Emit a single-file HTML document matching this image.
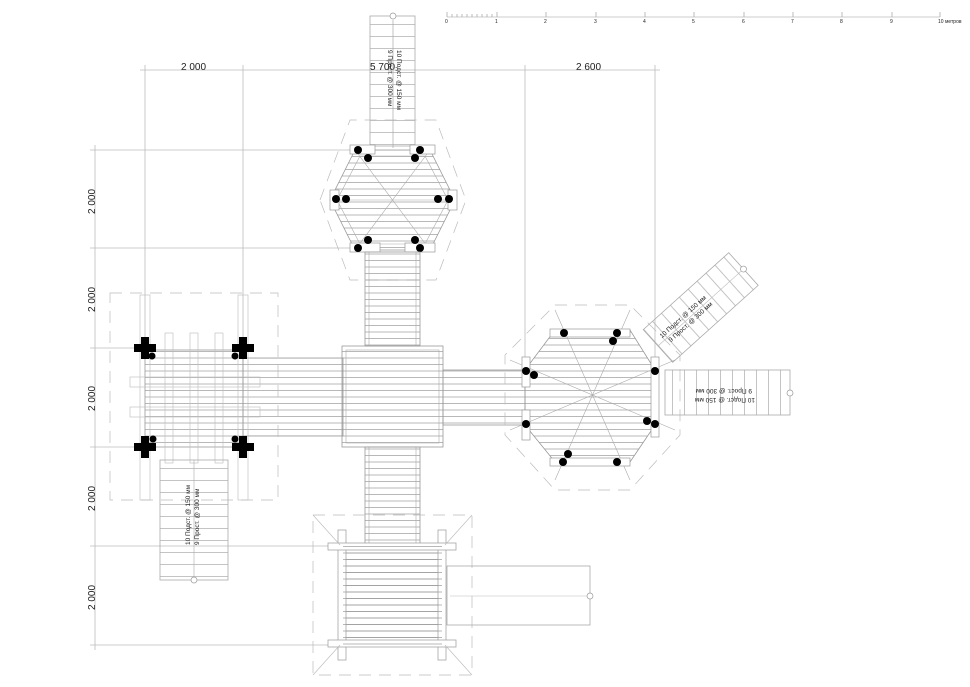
<!DOCTYPE html>
<html><head><meta charset="utf-8"><style>
html,body{margin:0;padding:0;background:#fff}
svg{display:block}
text{font-family:"Liberation Sans","Noto Sans CJK SC",sans-serif;fill:#222}
</style></head><body>
<svg width="970" height="687" viewBox="0 0 970 687" xmlns="http://www.w3.org/2000/svg">
<defs>
<pattern id="hl" width="10" height="6.5" patternUnits="userSpaceOnUse"><line x1="0" y1="0.5" x2="10" y2="0.5" stroke="#999" stroke-width="0.7"/></pattern>
<pattern id="hl2" width="10" height="12" patternUnits="userSpaceOnUse"><line x1="0" y1="0.5" x2="10" y2="0.5" stroke="#aaa" stroke-width="0.7"/></pattern>
<pattern id="vl" width="12" height="10" patternUnits="userSpaceOnUse"><line x1="0.5" y1="0" x2="0.5" y2="10" stroke="#aaa" stroke-width="0.7"/></pattern>
<g id="cross"><path d="M-4,-11h8v7h7v8h-7v7h-8v-7h-7v-8h7z" fill="#000"/></g>
</defs>
<rect width="970" height="687" fill="#fff"/>
<g stroke="#bbb" stroke-width="0.8" fill="none">
<!-- dimension lines -->
<line x1="140" y1="70" x2="660" y2="70"/>
<line x1="145" y1="65" x2="145" y2="345"/><line x1="243" y1="65" x2="243" y2="345"/>
<line x1="525" y1="65" x2="525" y2="365"/><line x1="655" y1="65" x2="655" y2="365"/>
<line x1="95" y1="145" x2="95" y2="650"/>
<line x1="90" y1="150" x2="355" y2="150"/><line x1="90" y1="248" x2="360" y2="248"/>
<line x1="90" y1="348" x2="140" y2="348"/><line x1="90" y1="447" x2="140" y2="447"/>
<line x1="90" y1="546" x2="340" y2="546"/><line x1="90" y1="645" x2="340" y2="645"/>
<!-- scale -->
<line x1="447" y1="17" x2="940" y2="17"/>
</g>
<g stroke="#aaa" stroke-width="0.8">
<line x1="447" y1="12" x2="447" y2="17"/><line x1="452" y1="14" x2="452" y2="17"/><line x1="457" y1="14" x2="457" y2="17"/><line x1="462" y1="14" x2="462" y2="17"/><line x1="467" y1="14" x2="467" y2="17"/><line x1="472" y1="14" x2="472" y2="17"/><line x1="477" y1="14" x2="477" y2="17"/><line x1="482" y1="14" x2="482" y2="17"/><line x1="487" y1="14" x2="487" y2="17"/><line x1="492" y1="14" x2="492" y2="17"/>
<line x1="497" y1="12" x2="497" y2="17"/><line x1="546" y1="12" x2="546" y2="17"/><line x1="596" y1="12" x2="596" y2="17"/><line x1="645" y1="12" x2="645" y2="17"/><line x1="694" y1="12" x2="694" y2="17"/><line x1="744" y1="12" x2="744" y2="17"/><line x1="793" y1="12" x2="793" y2="17"/><line x1="842" y1="12" x2="842" y2="17"/><line x1="892" y1="12" x2="892" y2="17"/><line x1="940" y1="12" x2="940" y2="17"/>
</g>
<g font-size="5" fill="#555">
<text x="445" y="23">0</text><text x="495" y="23">1</text><text x="544" y="23">2</text><text x="594" y="23">3</text><text x="643" y="23">4</text><text x="692" y="23">5</text><text x="742" y="23">6</text><text x="791" y="23">7</text><text x="840" y="23">8</text><text x="890" y="23">9</text><text x="938" y="23">10 метров</text>
</g>
<g font-size="10">
<text x="181" y="70">2 000</text><text x="370" y="70">5 700</text><text x="576" y="70">2 600</text>
<text transform="translate(95,214) rotate(-90)">2 000</text>
<text transform="translate(95,312) rotate(-90)">2 000</text>
<text transform="translate(95,411) rotate(-90)">2 000</text>
<text transform="translate(95,511) rotate(-90)">2 000</text>
<text transform="translate(95,610) rotate(-90)">2 000</text>
</g>

<!-- top stair -->
<rect x="370" y="16" width="45" height="130" fill="url(#hl2)" stroke="#aaa" stroke-width="0.8"/>
<line x1="393" y1="20" x2="393" y2="148" stroke="#aaa" stroke-width="0.7"/>
<circle cx="393" cy="16" r="3" fill="#fff" stroke="#999" stroke-width="0.7"/>
<g font-size="6.5" fill="#222"><text transform="translate(397,50) rotate(90)">10 Подст. @ 150 мм</text><text transform="translate(388,50) rotate(90)">9 Прост. @ 300 мм</text></g>

<!-- hexagon -->
<polygon points="320,200 350,120 436,120 466,200 436,280 350,280" fill="none" stroke="#bbb" stroke-width="0.7" stroke-dasharray="12,8"/>
<polygon points="330,200 355,150 430,150 455,200 430,250 355,250" fill="url(#hl)" stroke="#999" stroke-width="0.8"/>
<polygon points="337,200 360,156 425,156 448,200 425,244 360,244" fill="none" stroke="#aaa" stroke-width="0.6"/>
<g stroke="#aaa" stroke-width="0.6"><line x1="355" y1="150" x2="430" y2="250"/><line x1="430" y1="150" x2="355" y2="250"/><line x1="330" y1="200" x2="455" y2="200"/></g>
<g fill="#fff" stroke="#999" stroke-width="0.7"><rect x="350" y="145" width="25" height="9"/><rect x="410" y="145" width="25" height="9"/><rect x="350" y="243" width="30" height="9"/><rect x="405" y="243" width="30" height="9"/><rect x="330" y="190" width="9" height="20"/><rect x="448" y="190" width="9" height="20"/></g>
<g fill="#000"><circle cx="358" cy="150" r="4"/><circle cx="368" cy="158" r="4"/><circle cx="420" cy="150" r="4"/><circle cx="415" cy="158" r="4"/><circle cx="336" cy="199" r="4"/><circle cx="346" cy="199" r="4"/><circle cx="438" cy="199" r="4"/><circle cx="449" cy="199" r="4"/><circle cx="368" cy="240" r="4"/><circle cx="358" cy="248" r="4"/><circle cx="415" cy="240" r="4"/><circle cx="420" cy="248" r="4"/></g>

<!-- vertical walkways & center -->
<rect x="365" y="252" width="55" height="94" fill="url(#hl)" stroke="#999" stroke-width="0.8"/>
<rect x="369" y="252" width="47" height="94" fill="none" stroke="#aaa" stroke-width="0.6"/>
<rect x="365" y="447" width="55" height="98" fill="url(#hl)" stroke="#999" stroke-width="0.8"/>
<rect x="369" y="447" width="47" height="98" fill="none" stroke="#aaa" stroke-width="0.6"/>
<rect x="243" y="358" width="100" height="78" fill="url(#hl)" stroke="#999" stroke-width="0.8"/>
<rect x="443" y="370" width="82" height="55" fill="url(#hl)" stroke="#999" stroke-width="0.8"/>
<rect x="342" y="346" width="101" height="101" fill="url(#hl)" stroke="#999" stroke-width="0.8"/>
<rect x="346" y="350" width="93" height="93" fill="none" stroke="#aaa" stroke-width="0.6"/>

<!-- left square -->
<rect x="110" y="293" width="168" height="207" fill="none" stroke="#bbb" stroke-width="0.7" stroke-dasharray="12,8"/>
<rect x="145" y="350" width="98" height="97" fill="url(#hl)" stroke="#999" stroke-width="0.8"/>
<g fill="none" stroke="#bbb" stroke-width="0.6"><rect x="140" y="295" width="10" height="205"/><rect x="238" y="295" width="10" height="205"/><rect x="130" y="377" width="130" height="10"/><rect x="130" y="407" width="130" height="10"/><rect x="165" y="333" width="8" height="130"/><rect x="190" y="333" width="8" height="130"/><rect x="215" y="333" width="8" height="130"/></g>
<use href="#cross" x="145" y="348"/><use href="#cross" x="243" y="348"/><use href="#cross" x="145" y="447"/><use href="#cross" x="243" y="447"/>
<g fill="#000"><circle cx="152" cy="356" r="3.5"/><circle cx="235" cy="356" r="3.5"/><circle cx="153" cy="439" r="3.5"/><circle cx="235" cy="439" r="3.5"/></g>
<!-- left stair -->
<rect x="160" y="460" width="68" height="120" fill="url(#hl2)" stroke="#aaa" stroke-width="0.8"/>
<line x1="194" y1="460" x2="194" y2="580" stroke="#aaa" stroke-width="0.6"/>
<circle cx="194" cy="580" r="3" fill="#fff" stroke="#999" stroke-width="0.7"/>
<g font-size="6.5"><text transform="translate(190,545) rotate(-90)">10 Подст. @ 150 мм</text><text transform="translate(199,545) rotate(-90)">9 Прост. @ 300 мм</text></g>

<!-- octagon -->
<polygon points="555,305 630,305 680,355 680,435 630,490 555,490 505,435 505,355" fill="none" stroke="#bbb" stroke-width="0.7" stroke-dasharray="12,8"/>
<polygon points="555,330 630,330 655,370 655,425 630,462 555,462 525,425 525,370" fill="url(#hl)" stroke="#999" stroke-width="0.8"/>
<g stroke="#aaa" stroke-width="0.6"><line x1="555" y1="310" x2="630" y2="480"/><line x1="630" y1="310" x2="555" y2="480"/><line x1="510" y1="360" x2="675" y2="430"/><line x1="510" y1="430" x2="675" y2="360"/></g>
<g fill="#fff" stroke="#999" stroke-width="0.7"><rect x="550" y="329" width="80" height="8"/><rect x="550" y="458" width="80" height="8"/><rect x="522" y="357" width="8" height="30"/><rect x="522" y="410" width="8" height="30"/><rect x="651" y="357" width="8" height="80"/></g>
<g fill="#000"><circle cx="564" cy="333" r="4"/><circle cx="617" cy="333" r="4"/><circle cx="613" cy="341" r="4"/><circle cx="526" cy="371" r="4"/><circle cx="534" cy="375" r="4"/><circle cx="655" cy="371" r="4"/><circle cx="647" cy="421" r="4"/><circle cx="655" cy="424" r="4"/><circle cx="526" cy="424" r="4"/><circle cx="568" cy="454" r="4"/><circle cx="563" cy="462" r="4"/><circle cx="617" cy="462" r="4"/></g>
<!-- diagonal stair -->
<g transform="translate(658,346) rotate(-42)">
<rect x="0" y="-22" width="115" height="44" fill="url(#vl)" stroke="#aaa" stroke-width="0.8"/>
<line x1="0" y1="0" x2="115" y2="0" stroke="#bbb" stroke-width="0.6"/>
<circle cx="115" cy="0" r="3" fill="#fff" stroke="#999" stroke-width="0.7"/>
<g font-size="6.5"><text x="8" y="-3">10 Подст. @ 150 мм</text><text x="12" y="6">9 Прост. @ 300 мм</text></g>
</g>
<!-- right stair -->
<rect x="665" y="370" width="125" height="45" fill="url(#vl)" stroke="#aaa" stroke-width="0.8"/>
<circle cx="790" cy="393" r="3" fill="#fff" stroke="#999" stroke-width="0.7"/>
<g font-size="6.5"><text transform="translate(752,389) rotate(180)">9 Прост. @ 300 мм</text><text transform="translate(755,398) rotate(180)">10 Подст. @ 150 мм</text></g>

<!-- bottom square -->
<rect x="313" y="515" width="159" height="160" fill="none" stroke="#bbb" stroke-width="0.7" stroke-dasharray="12,8"/>
<rect x="340" y="545" width="105" height="100" fill="url(#hl)" stroke="#999" stroke-width="0.8"/>
<g fill="#fff" stroke="#999" stroke-width="0.7"><rect x="338" y="530" width="8" height="130"/><rect x="438" y="530" width="8" height="130"/><rect x="328" y="543" width="128" height="7"/><rect x="328" y="640" width="128" height="7"/></g>
<rect x="343" y="545" width="99" height="100" fill="url(#hl)" stroke="none"/>
<g stroke="#bbb" stroke-width="0.6"><line x1="313" y1="515" x2="340" y2="545"/><line x1="472" y1="515" x2="445" y2="545"/><line x1="313" y1="675" x2="340" y2="645"/><line x1="472" y1="675" x2="445" y2="645"/></g>
<rect x="447" y="566" width="143" height="59" fill="none" stroke="#aaa" stroke-width="0.8"/>
<line x1="450" y1="596" x2="590" y2="596" stroke="#bbb" stroke-width="0.6"/>
<circle cx="590" cy="596" r="3" fill="#fff" stroke="#999" stroke-width="0.7"/>
</svg>
</body></html>
